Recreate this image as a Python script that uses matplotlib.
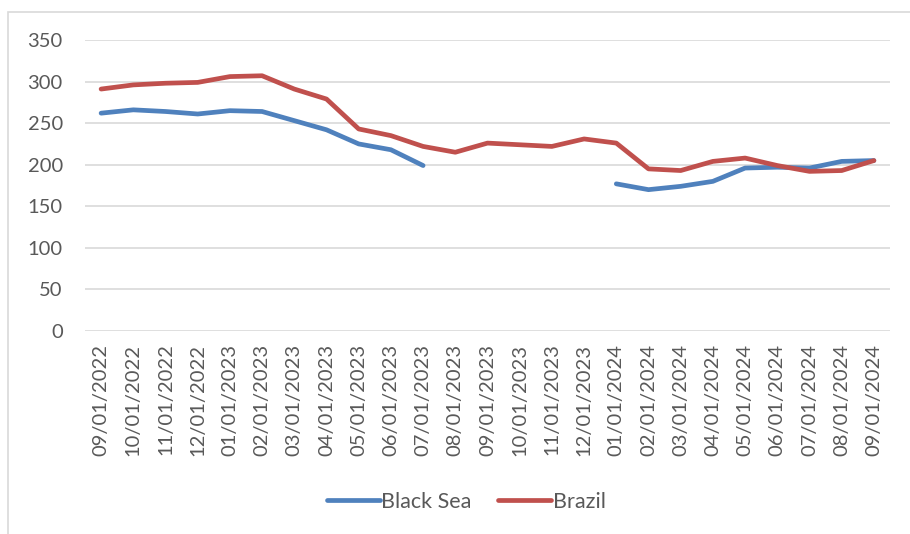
import numpy as np
from matplotlib import pyplot as plt
from matplotlib.patches import Rectangle

months = ["09/01/2022", "10/01/2022", "11/01/2022", "12/01/2022",
          "01/01/2023", "02/01/2023", "03/01/2023", "04/01/2023",
          "05/01/2023", "06/01/2023", "07/01/2023", "08/01/2023",
          "09/01/2023", "10/01/2023", "11/01/2023", "12/01/2023",
          "01/01/2024", "02/01/2024", "03/01/2024", "04/01/2024",
          "05/01/2024", "06/01/2024", "07/01/2024", "08/01/2024",
          "09/01/2024"]
black_sea = [262, 266, 264, 261, 265, 264, 253, 242, 225, 218, 199,
             np.nan, np.nan, np.nan, np.nan, np.nan,
             177, 170, 174, 180, 196, 197, 196, 204, 205]
brazil = [291, 296, 298, 299, 306, 307, 291, 279, 243, 235, 222, 215,
          226, 224, 222, 231, 226, 195, 193, 204, 208, 199, 192, 193, 205]

plt.rcParams["font.family"] = ["Lato", "DejaVu Sans"]
fig = plt.figure(figsize = (9.1, 5.34), dpi = 100)

# chart area border
fig.patches.append(Rectangle((8 / 910, -0.1), 1.0, (534 - 12) / 534 + 0.1,
                             transform = fig.transFigure, fill = False,
                             edgecolor = "#D9D9D9", linewidth = 1.2))

ax = fig.add_axes([85 / 910, 1 - 331 / 534, 805 / 910, 291 / 534])
x = np.arange(len(months))
ax.plot(x, black_sea, color = "#4F81BD", linewidth = 3.4, solid_capstyle = "round", label = "Black Sea")
ax.plot(x, brazil, color = "#C0504D", linewidth = 3.4, solid_capstyle = "round", label = "Brazil")

ax.set_xlim(-0.5, len(months) - 0.5)
ax.set_ylim(0, 350)
ax.set_yticks(range(0, 351, 50))
ax.set_xticks(x)
ax.set_xticklabels(months, rotation = 90)
ax.yaxis.grid(True, color = "#D9D9D9", linewidth = 1.2)
ax.set_axisbelow(True)
for s in ax.spines.values():
    s.set_visible(False)
ax.tick_params(axis = "both", length = 0, colors = "#595959", labelsize = 14.5)
ax.tick_params(axis = "y", pad = 16)
ax.tick_params(axis = "x", pad = 9)

fig.legend(loc = "center", bbox_to_anchor = (466 / 910, 1 - 502 / 534), ncol = 2,
           frameon = False, fontsize = 15.5, handlelength = 2.5, handletextpad = 0.05,
           columnspacing = 1.2, labelcolor = "#595959")

fig.savefig("out.png", dpi = 100)
